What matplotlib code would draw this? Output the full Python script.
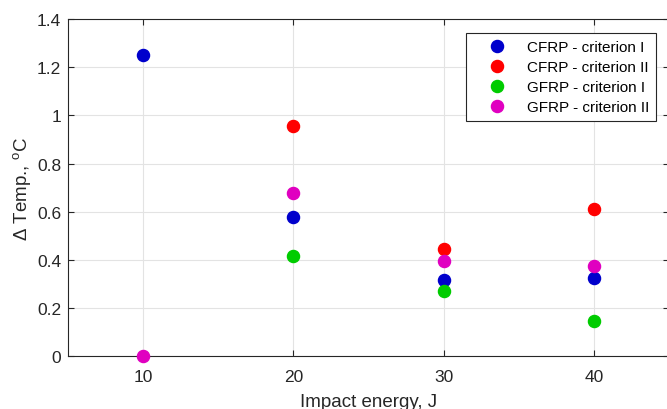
import matplotlib
matplotlib.use('Agg')
import matplotlib.pyplot as plt

plt.rcParams['font.family'] = ['Liberation Sans', 'DejaVu Sans']
plt.rcParams['mathtext.fontset'] = 'custom'
plt.rcParams['mathtext.rm'] = 'Liberation Sans'

energy = [10, 20, 30, 40]
cfrp_1 = [1.252, 0.576, 0.317, 0.323]
cfrp_2 = [None, 0.957, 0.445, 0.613]
gfrp_1 = [None, 0.414, 0.269, 0.147]
gfrp_2 = [0.0, 0.677, 0.397, 0.375]

labels = ['CFRP - criterion I', 'CFRP - criterion II',
          'GFRP - criterion I', 'GFRP - criterion II']
colors = ['#0000CC', '#FF0000', '#00CC00', '#E000C0']

fig = plt.figure(figsize=(6.67, 4.10), dpi=100)
ax = fig.add_axes([0.102, 0.129, 0.901, 0.822])

for ys, lab, c in zip([cfrp_1, cfrp_2, gfrp_1, gfrp_2], labels, colors):
    xs = [x for x, y in zip(energy, ys) if y is not None]
    yy = [y for y in ys if y is not None]
    ax.plot(xs, yy, 'o', color=c, markersize=8.7, label=lab, clip_on=False, zorder=3)

ax.set_xlim(5, 45)
ax.set_ylim(0, 1.4)
ax.set_xticks(energy)
ax.set_yticks([0, 0.2, 0.4, 0.6, 0.8, 1, 1.2, 1.4])
ax.set_yticklabels(['0', '0.2', '0.4', '0.6', '0.8', '1', '1.2', '1.4'])
ax.grid(True, color='#e3e3e3', linewidth=0.8)
ax.set_axisbelow(True)
ax.tick_params(direction='in', top=True, right=True, labelsize=12.5,
               colors='#262626', length=4, width=0.8)
ax.tick_params(axis='x', pad=9)
ax.tick_params(axis='y', pad=5)
for s in ax.spines.values():
    s.set_color('#262626')
    s.set_linewidth(0.8)

ax.set_xlabel('Impact energy, J', fontsize=13.5, color='#262626', labelpad=6.5)
ax.set_ylabel(r'$\Delta$ Temp., $^{\rm o}$C', fontsize=13.5, color='#262626', labelpad=2)

leg = ax.legend(loc='upper right', bbox_to_anchor=(0.978, 0.958), fontsize=11,
                fancybox=False, framealpha=1, edgecolor='#262626',
                handletextpad=0.4, borderpad=0.45, labelspacing=0.39,
                handlelength=3.1, borderaxespad=0)
leg.get_frame().set_linewidth(0.8)

plt.savefig('out.png', dpi=100)
